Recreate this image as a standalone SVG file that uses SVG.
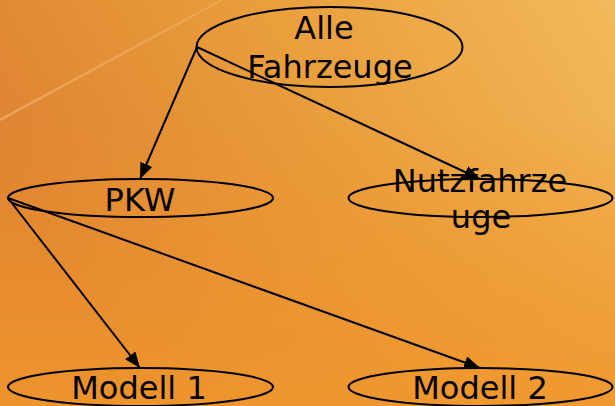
<svg xmlns="http://www.w3.org/2000/svg" width="615" height="406" viewBox="0 0 615 406">
  <defs>
    <linearGradient id="bg" x1="0" y1="0.4" x2="1" y2="0">
      <stop offset="0" stop-color="#DE8331"/>
      <stop offset="0.5" stop-color="#EA9E3C"/>
      <stop offset="1" stop-color="#F3B95A"/>
    </linearGradient>
    <linearGradient id="bot" x1="0" y1="0" x2="0" y2="1">
      <stop offset="0.3" stop-color="#F0972C" stop-opacity="0"/>
      <stop offset="1" stop-color="#F0972C" stop-opacity="0.85"/>
    </linearGradient>
    <linearGradient id="streak" x1="0" y1="1" x2="1" y2="0">
      <stop offset="0" stop-color="#FFE0B0" stop-opacity="0.35"/>
      <stop offset="1" stop-color="#FFE0B0" stop-opacity="0.15"/>
    </linearGradient>
    <marker id="arr" viewBox="0 0 16 13" refX="16" refY="6.5" markerWidth="16" markerHeight="13" markerUnits="userSpaceOnUse" orient="auto">
      <path d="M0,0 L16,6.5 L0,13 Z" fill="#000"/>
    </marker>
  </defs>
  <style>
    .node ellipse { fill: none; stroke: #000; stroke-width: 2; }
    .node text { font-family: "DejaVu Sans", Verdana, sans-serif; font-size: 32px; fill: #000; text-anchor: middle; }
    .edges line { stroke: #000; stroke-width: 2; marker-end: url(#arr); }
  </style>
  <rect x="0" y="0" width="615" height="406" fill="url(#bg)"/>
  <rect x="0" y="0" width="615" height="406" fill="url(#bot)"/>
  <line x1="0" y1="120" x2="222" y2="0" stroke="url(#streak)" stroke-width="2.5"/>

  <g class="edges">
    <line x1="197" y1="47" x2="140" y2="179"/>
    <line x1="197" y1="47" x2="480" y2="179"/>
    <line x1="8" y1="198" x2="140" y2="368"/>
    <line x1="8" y1="198" x2="480" y2="368"/>
  </g>

  <g id="alle" class="node">
    <ellipse cx="329.5" cy="47" rx="133" ry="40"/>
    <text x="324" y="39">Alle</text>
    <text x="330" y="78">Fahrzeuge</text>
  </g>
  <g id="pkw" class="node">
    <ellipse cx="140.5" cy="198" rx="132.5" ry="19"/>
    <text x="140" y="211">PKW</text>
  </g>
  <g id="nutz" class="node">
    <ellipse cx="480.5" cy="198" rx="132" ry="19"/>
    <text x="480" y="192">Nutzfahrze</text>
    <text x="481" y="228">uge</text>
  </g>
  <g id="modell1" class="node">
    <ellipse cx="140.5" cy="387" rx="132.5" ry="19"/>
    <text x="139" y="399">Modell 1</text>
  </g>
  <g id="modell2" class="node">
    <ellipse cx="480.5" cy="387" rx="132" ry="19"/>
    <text x="480" y="399">Modell 2</text>
  </g>
</svg>
